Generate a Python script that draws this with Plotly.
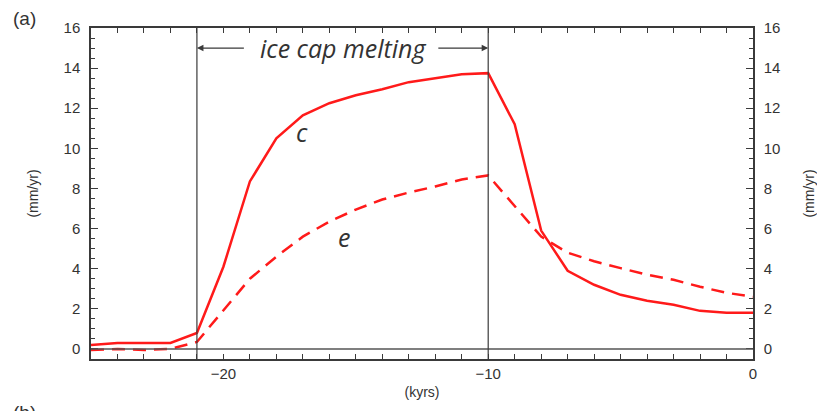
import plotly.graph_objects as go

years = [-25, -24, -23, -22, -21, -20, -19, -18, -17, -16, -15, -14, -13,
         -12, -11, -10, -9, -8, -7, -6, -5, -4, -3, -2, -1, 0]
series_c = [0.2, 0.3, 0.3, 0.3, 0.8, 4.1, 8.35, 10.5, 11.65, 12.25, 12.65, 12.95, 13.3,
            13.5, 13.7, 13.75, 11.2, 5.9, 3.9, 3.2, 2.7, 2.4, 2.2, 1.9, 1.8, 1.8]
series_e = [-0.05, 0.0, -0.05, 0.0, 0.35, 1.9, 3.5, 4.6, 5.6, 6.35, 6.95, 7.45, 7.8,
            8.1, 8.45, 8.65, 7.1, 5.6, 4.8, 4.37, 4.03, 3.7, 3.45, 3.1, 2.8, 2.6]
y_ticks = [0, 2, 4, 6, 8, 10, 12, 14, 16]
x_ticks = [-20, -10, 0]
x_ticklabels = ["\u221220", "\u221210", "0"]
melt_start, melt_end = -21, -10

FONT = "Liberation Sans, Arial, sans-serif"
ITAL = "Open Sans, sans-serif"
AX = "#3a3a3a"
TXT = "#333333"
RED = "#ff1a1a"

fig = go.Figure()
fig.add_trace(go.Scatter(x=years, y=series_c, mode="lines",
                         line=dict(color=RED, width=2.5), showlegend=False))
fig.add_trace(go.Scatter(x=years, y=series_e, mode="lines",
                         line=dict(color=RED, width=2.5, dash="13px,8px"), showlegend=False))
# invisible trace for right axis
fig.add_trace(go.Scatter(x=[years[0]], y=[0], yaxis="y2", mode="markers",
                         marker=dict(opacity=0), showlegend=False, hoverinfo="skip"))

fig.add_hline(y=0, line=dict(color="#555555", width=1.5))
for xv in (melt_start, melt_end):
    fig.add_shape(type="line", x0=xv, x1=xv, y0=0, y1=1, xref="x", yref="paper",
                  line=dict(color=AX, width=1.2))

# arrows
arrow_y = 15
fig.add_annotation(x=melt_start, y=arrow_y, ax=-19.17, ay=arrow_y, xref="x", yref="y",
                   axref="x", ayref="y", text="", showarrow=True, arrowhead=2,
                   arrowsize=1, arrowwidth=1.3, arrowcolor=AX)
fig.add_annotation(x=melt_end, y=arrow_y, ax=-11.94, ay=arrow_y, xref="x", yref="y",
                   axref="x", ayref="y", text="", showarrow=True, arrowhead=2,
                   arrowsize=1, arrowwidth=1.3, arrowcolor=AX)
fig.add_annotation(x=-15.5, y=arrow_y, xref="x", yref="y", text="<i>ice cap melting</i>",
                   showarrow=False, font=dict(family=ITAL, size=25, color=TXT))
fig.add_annotation(x=-17.05, y=10.8, xref="x", yref="y", text="<i>c</i>",
                   showarrow=False, font=dict(family=ITAL, size=25, color=TXT))
fig.add_annotation(x=-15.45, y=5.6, xref="x", yref="y", text="<i>e</i>",
                   showarrow=False, font=dict(family=ITAL, size=25, color=TXT))

fig.add_annotation(x=-0.1, y=1.030, xref="paper", yref="paper", text="(a)", showarrow=False,
                   xanchor="center", yanchor="middle",
                   font=dict(family=FONT, size=19, color=TXT))
fig.add_annotation(x=-0.1, y=-0.124, xref="paper", yref="paper", text="(b)", showarrow=False,
                   xanchor="center", yanchor="top",
                   font=dict(family=FONT, size=19, color=TXT))

tickfont = dict(family=FONT, size=15, color=TXT)
titlefont = dict(family=FONT, size=14, color=TXT)
fig.update_layout(
    width=817, height=411,
    margin=dict(l=91, r=64, t=28, b=52, autoexpand=False),
    plot_bgcolor="white", paper_bgcolor="white",
    xaxis=dict(range=[-25, 0], tickvals=x_ticks, ticktext=x_ticklabels,
               ticks="inside", ticklen=5, tickwidth=1.2, tickcolor=AX,
               minor=dict(dtick=1, ticks="inside", ticklen=4, tickcolor=AX, tickwidth=1.2),
               showline=True, linecolor=AX, linewidth=2, mirror="allticks",
               showgrid=False, zeroline=False, tickfont=tickfont, ticklabelstandoff=0,
               title=dict(text="(kyrs)", font=titlefont, standoff=6)),
    yaxis=dict(range=[-0.5, 16], tickvals=y_ticks,
               ticks="inside", ticklen=7, tickwidth=1.2, tickcolor=AX,
               minor=dict(dtick=0.5, ticks="inside", ticklen=4, tickcolor=AX, tickwidth=1.2),
               showline=True, linecolor=AX, linewidth=1.5,
               showgrid=False, zeroline=False, tickfont=tickfont, ticklabelstandoff=6,
               title=dict(text="(mm/yr)", font=titlefont, standoff=22)),
    yaxis2=dict(range=[-0.5, 16], tickvals=y_ticks, overlaying="y", side="right",
                ticks="inside", ticklen=7, tickwidth=1.2, tickcolor=AX,
                minor=dict(dtick=0.5, ticks="inside", ticklen=4, tickcolor=AX, tickwidth=1.2),
                showline=True, linecolor=AX, linewidth=1.5,
                showgrid=False, zeroline=False, tickfont=tickfont, ticklabelstandoff=6,
                title=dict(text="(mm/yr)", font=titlefont, standoff=26)),
)
fig.write_html("out.html", config={"displayModeBar": False},
               post_script="document.body.style.margin='0';")
